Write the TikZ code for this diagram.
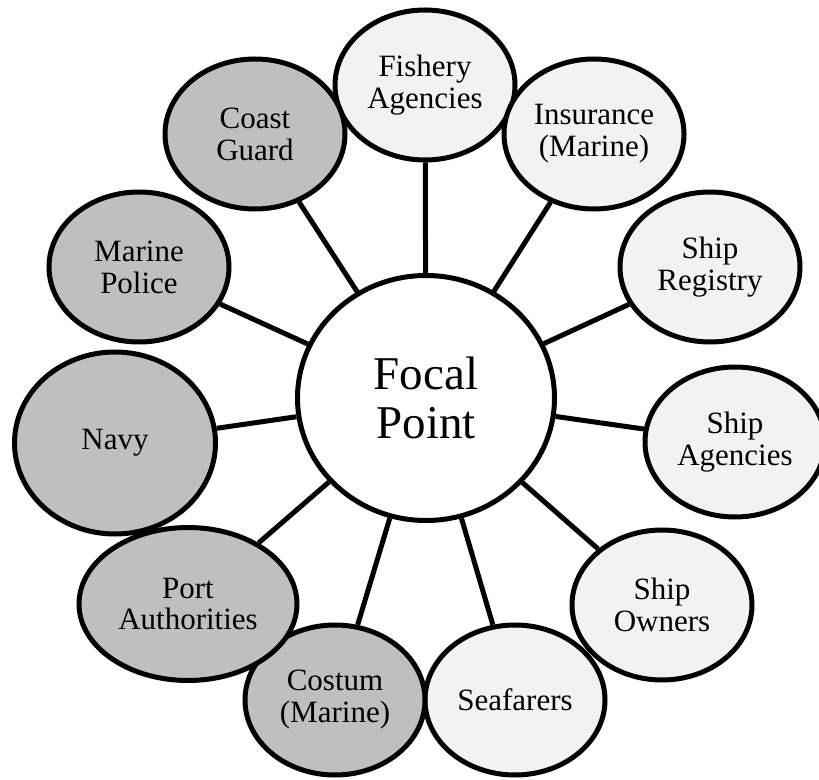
\documentclass[tikz,border=0pt]{standalone}
\usepackage{fontspec}
\setmainfont{Liberation Serif}
\usepackage{tikz}
\usetikzlibrary{shapes.geometric,positioning}
\definecolor{darkfill}{RGB}{191,191,191}
\definecolor{lightfill}{RGB}{242,242,242}
\tikzset{
  actor/.style={draw, ellipse, line width=2.5pt, inner sep=0pt, align=center, minimum width=90pt, minimum height=75pt, font=\fontsize{15.5}{16}\selectfont},
  darknode/.style={actor, fill=darkfill},
  lightnode/.style={actor, fill=lightfill},
  spoke/.style={line width=2.5pt}
}
\begin{document}
\begin{tikzpicture}[x=0.5pt, y=-0.5pt]
        \useasboundingbox (0,0) rectangle (819,780);
        % Central focal point
        \node[draw, ellipse, line width=2.5pt, fill=white, inner sep=0pt, align=center, minimum width=128.5pt, minimum height=122.5pt, font=\fontsize{23.5}{24.5}\selectfont] (focal) at (426,398) {Focal\\Point};
        
        % Light outer nodes on the right
        \node[lightnode] (fishery) at (425,85) {Fishery\\Agencies};
        \node[lightnode] (insurance) at (594,134) {Insurance\\(Marine)};
        \node[lightnode] (registry) at (710,267) {Ship\\Registry};
        \node[lightnode] (agencies) at (735,442) {Ship\\Agencies};
        \node[lightnode] (owners) at (662,605) {Ship\\Owners};
        \node[lightnode] (seafarers) at (515,700) {Seafarers};
        
        % Dark outer nodes on the left
        \node[darknode] (costum) at (335,700) {Costum\\(Marine)};
        \node[darknode, minimum width=109pt, minimum height=76.5pt] (port) at (188,604) {Port\\Authorities};
        \node[darknode, minimum width=100.5pt, minimum height=91pt] (navy) at (115,443) {Navy};
        \node[darknode] (police) at (139,267) {Marine\\Police};
        \node[darknode] (coast) at (255,134) {Coast\\Guard};
        
        % Spokes from the focal point
        \foreach \n in {fishery,insurance,registry,agencies,owners,seafarers,costum,port,navy,police,coast}
          \draw[spoke] (focal) -- (\n);
    \end{tikzpicture}
\end{document}
